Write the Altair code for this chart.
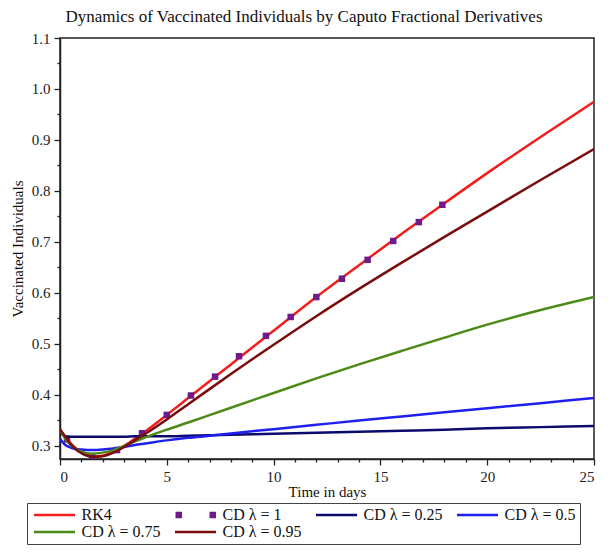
import altair as alt
import pandas as pd

# ---- data -------------------------------------------------------------
t_days = [0, 0.25, 0.5, 0.75, 1, 1.5, 2, 2.5, 3, 3.5, 4, 5, 6, 7, 8, 9, 10,
          12, 14, 16, 18, 20, 22.5, 25]

rk4 = [0.331, 0.318, 0.305, 0.295, 0.288, 0.280, 0.281, 0.289, 0.300, 0.314,
       0.329, 0.361, 0.394, 0.427, 0.460, 0.493, 0.526, 0.592, 0.6545, 0.716,
       0.776, 0.835, 0.906, 0.975]
cd_025 = [0.328, 0.319, 0.318, 0.318, 0.318, 0.318, 0.318, 0.318, 0.318, 0.319,
          0.319, 0.319, 0.320, 0.321, 0.322, 0.323, 0.324, 0.326, 0.328, 0.330,
          0.332, 0.335, 0.337, 0.339]
cd_05 = [0.314, 0.302, 0.297, 0.294, 0.293, 0.292, 0.293, 0.295, 0.298, 0.302,
         0.305, 0.311, 0.316, 0.320, 0.3245, 0.329, 0.333, 0.3415, 0.350, 0.358,
         0.366, 0.374, 0.384, 0.394]
cd_075 = [0.332, 0.314, 0.302, 0.294, 0.289, 0.285, 0.287, 0.292, 0.300, 0.309,
          0.317, 0.332, 0.346, 0.3605, 0.375, 0.3895, 0.404, 0.4325, 0.460, 0.4865,
          0.5125, 0.538, 0.5665, 0.592]
cd_095 = [0.333, 0.318, 0.304, 0.293, 0.286, 0.279, 0.280, 0.287, 0.298, 0.311,
          0.324, 0.352, 0.382, 0.4115, 0.441, 0.470, 0.4985, 0.5545, 0.608, 0.6595,
          0.710, 0.7595, 0.8215, 0.882]

# CD lambda = 1 is plotted with point markers only
t_cd1 = [0.33, 1.5, 2.67, 3.84, 5.0, 6.13, 7.26, 8.38, 9.64, 10.8, 12.0, 13.2,
         14.4, 15.6, 16.8, 17.9]
cd_1 = [0.313, 0.280, 0.292, 0.325, 0.361, 0.399, 0.436, 0.476, 0.516, 0.553,
        0.592, 0.628, 0.665, 0.702, 0.739, 0.773]

series_names = ["RK4", "CD λ = 1", "CD λ = 0.25", "CD λ = 0.5",
                "CD λ = 0.75", "CD λ = 0.95"]
series_colors = ["#f21d1d", "#6e1a8a", "#0b0b6e", "#1f1ff0", "#4c8a17", "#7a0c0c"]
color_of = dict(zip(series_names, series_colors))

# legend glyphs: a line for the curves, two small squares for the markers
line_glyph = "M-1,0H7.2"
square_glyph = ("M-0.9,-0.4H0.4M-0.9,0H0.4M-0.9,0.4H0.4"
                "M5.9,-0.4H7.2M5.9,0H7.2M5.9,0.4H7.2")
series_glyphs = [line_glyph, square_glyph, line_glyph, line_glyph,
                 line_glyph, line_glyph]

curves = {"RK4": rk4, "CD λ = 0.25": cd_025, "CD λ = 0.5": cd_05,
          "CD λ = 0.75": cd_075, "CD λ = 0.95": cd_095}

W, H = 534, 421
FONT = "Liberation Serif, Times New Roman, serif"

x_scale = alt.Scale(domain=[0, 25], nice=False, zero=False)
y_scale = alt.Scale(domain=[0.2745, 1.1], nice=False, zero=False)
color_scale = alt.Scale(domain=series_names, range=series_colors)
shape_scale = alt.Scale(domain=series_names, range=series_glyphs)

major_y = "abs(datum.value * 10 - round(datum.value * 10)) < 0.01"
x_axis = alt.Axis(
    title="Time in days",
    values=list(range(0, 26)),
    labelExpr="datum.value % 5 === 0 ? datum.label : ''",
    tickSize={"condition": {"test": "datum.value % 5 === 0", "value": 6}, "value": 3},
    labelPadding=4,
    titlePadding=0,
)
y_axis = alt.Axis(
    title="Vaccinated Individuals",
    values=[round(0.3 + 0.05 * i, 2) for i in range(17)],
    labelExpr=f"{major_y} ? format(datum.value, '.1f') : ''",
    tickSize={"condition": {"test": major_y, "value": 6}, "value": 3},
    labelPadding=4,
    titlePadding=6,
)


def xy():
    return dict(
        x=alt.X("t:Q", scale=x_scale, axis=x_axis),
        y=alt.Y("v:Q", scale=y_scale, axis=y_axis),
    )


def curve_layer(name):
    df = pd.DataFrame({"t": t_days, "v": curves[name]})
    return alt.Chart(df).mark_line(
        strokeWidth=2.5, interpolate="monotone", clip=True, color=color_of[name]
    ).encode(**xy())


cd1_df = pd.DataFrame({"t": t_cd1, "v": cd_1})
cd1_layer = alt.Chart(cd1_df).mark_square(
    size=42, opacity=1, clip=True, color=color_of["CD λ = 1"]
).encode(**xy())

# one off-canvas point per series carries the legend
legend_kw = dict(
    title=None, orient="none", legendX=-33, legendY=465, columns=4,
    direction="horizontal", gridAlign="all",
    labelFont=FONT, labelFontSize=16, labelColor="#111", labelLimit=300,
    symbolSize=100, symbolStrokeWidth=2.5, labelOffset=34.5,
    strokeColor="#444", fillColor="white", padding=4,
    columnPadding=9, rowPadding=1,
)
key_df = pd.DataFrame({"t": [-5.0] * 6, "v": [0.5] * 6, "series": series_names})
key_layer = alt.Chart(key_df).mark_point(
    filled=False, opacity=1, strokeWidth=2.5, clip=True
).encode(
    **xy(),
    color=alt.Color("series:N", scale=color_scale, legend=alt.Legend(**legend_kw)),
    shape=alt.Shape("series:N", scale=shape_scale, legend=alt.Legend(**legend_kw)),
)

chart = alt.layer(
    curve_layer("RK4"),
    cd1_layer,
    curve_layer("CD λ = 0.25"),
    curve_layer("CD λ = 0.5"),
    curve_layer("CD λ = 0.75"),
    curve_layer("CD λ = 0.95"),
    key_layer,
).properties(
    width=W, height=H,
    title=alt.TitleParams(
        "Dynamics of Vaccinated Individuals by Caputo Fractional Derivatives",
        font=FONT, fontSize=17, fontWeight="normal", color="#111",
        anchor="middle", dx=-23, offset=5,
    ),
    autosize=alt.AutoSizeParams(type="none"),
    padding={"left": 60, "top": 38, "right": 16, "bottom": 93},
).configure_view(
    stroke="#222", strokeWidth=1.5,
).configure_axis(
    labelFont=FONT, labelFontSize=15, labelColor="#222",
    titleFont=FONT, titleFontSize=15, titleFontWeight="normal", titleColor="#111",
    domainColor="#222", domainWidth=1.5, tickColor="#222", tickWidth=1.3,
    grid=False,
)

chart.save("out.html", embed_options={"renderer": "svg", "actions": False})
